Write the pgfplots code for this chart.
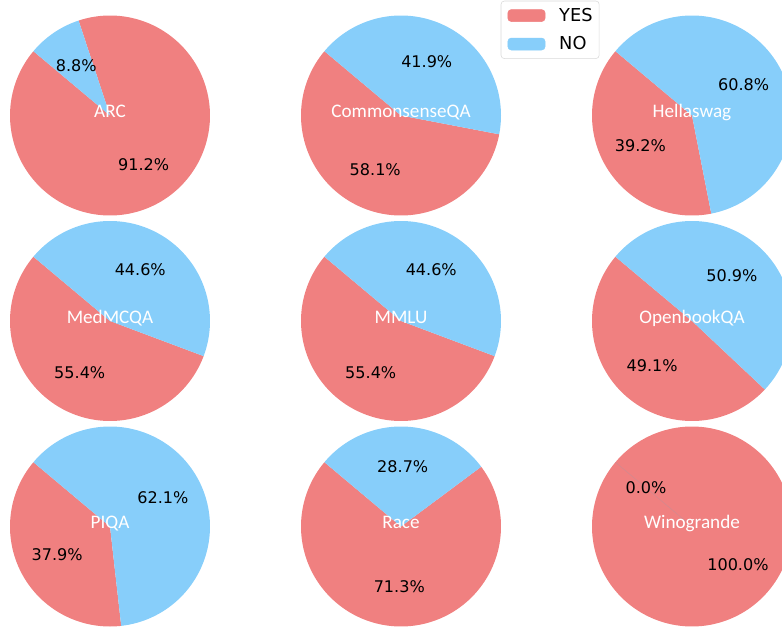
\documentclass[border=0pt]{standalone}
\usepackage{pgfplots}
\usepackage{pgfplotstable}
\pgfplotsset{compat=1.18}
\usepackage{fontspec}
\setmainfont{DejaVu Sans}
\newfontfamily\namefont{Carlito}
\definecolor{yescol}{HTML}{F08080}
\definecolor{nocol}{HTML}{87CEFA}

% percentage of YES / NO answers per dataset; cx, cy = pie centre (pixels)
\pgfplotstableread{
name           yes    no    cx   cy
ARC            91.2   8.8   110  115.5
CommonsenseQA  58.1   41.9  401  115.5
Hellaswag      39.2   60.8  692  115.5
MedMCQA        55.4   44.6  110  321
MMLU           55.4   44.6  401  321
OpenbookQA     49.1   50.9  692  321
PIQA           37.9   62.1  110  526.5
Race           71.3   28.7  401  526.5
Winogrande     100.0  0.0   692  526.5
}\pietable

\begin{document}
\begin{tikzpicture}
\begin{axis}[
  scale only axis,
  width=563.04pt, height=452.16pt,
  xmin=0, xmax=782, ymin=0, ymax=628,
  y dir=reverse,
  hide axis,
  clip=true,
  legend style={
    at={(axis cs:500.7,0.7)}, anchor=north west,
    draw=black!15, rounded corners=2.5pt,
    font=\fontsize{12.8}{15}\selectfont,
    inner xsep=4.75pt, inner ysep=5pt,
    nodes={inner sep=0pt},
    column sep=10pt, row sep=9.5pt,
    legend cell align=left,
  },
]
\addlegendimage{legend image code/.code={\fill[yescol] (0pt,-4.3pt) rectangle (26.8pt,4.3pt);}}
\addlegendentry{YES}
\addlegendimage{legend image code/.code={\fill[nocol] (0pt,-4.3pt) rectangle (26.8pt,4.3pt);}}
\addlegendentry{NO}

\pgfplotsinvokeforeach{0,...,8}{
  \pgfplotstablegetelem{#1}{name}\of\pietable \let\pname\pgfplotsretval
  \pgfplotstablegetelem{#1}{yes}\of\pietable \let\pyes\pgfplotsretval
  \pgfplotstablegetelem{#1}{no}\of\pietable \let\pno\pgfplotsretval
  \pgfplotstablegetelem{#1}{cx}\of\pietable \let\cx\pgfplotsretval
  \pgfplotstablegetelem{#1}{cy}\of\pietable \let\cy\pgfplotsretval
  \pgfmathsetmacro\aend{140+3.6*\pyes}
  \pgfmathsetmacro\bend{\aend+3.6*\pno}
  \pgfmathsetmacro\amid{140+1.8*\pyes}
  \pgfmathsetmacro\bmid{\aend+1.8*\pno}
  \pgfmathsetmacro\yx{\cx+60*cos(\amid)}
  \pgfmathsetmacro\yy{\cy-60*sin(\amid)}
  \pgfmathsetmacro\nx{\cx+60*cos(\bmid)}
  \pgfmathsetmacro\ny{\cy-60*sin(\bmid)}
  \pgfmathsetmacro\bx{\cx+100*cos(\aend)}
  \pgfmathsetmacro\by{\cy-100*sin(\aend)}
  \edef\doit{%
    \noexpand\addplot[fill=yescol, draw=none, forget plot, domain=140:\aend, samples=150]
      ({\cx+100*cos(x)},{\cy-100*sin(x)}) -- (axis cs:\cx,\cy) -- cycle;
  }\doit
  \pgfmathparse{\pno>0.05 ? 1 : 0}
  \ifnum\pgfmathresult=1
    \edef\doit{%
      \noexpand\addplot[fill=nocol, draw=none, forget plot, domain=\aend:\bend, samples=100]
        ({\cx+100*cos(x)},{\cy-100*sin(x)}) -- (axis cs:\cx,\cy) -- cycle;
    }\doit
  \else
    \edef\doit{%
      \noexpand\addplot[draw=yescol!70!gray!80!nocol, line width=0.4pt, opacity=0.6, forget plot]
        coordinates {(\cx,\cy) (\bx,\by)};
    }\doit
  \fi
  \edef\doit{%
    \noexpand\node[font=\noexpand\fontsize{11.56}{13}\noexpand\selectfont, inner sep=0pt] at (axis cs:\yx,\yy) {\pyes\noexpand\%};
    \noexpand\node[font=\noexpand\fontsize{11.56}{13}\noexpand\selectfont, inner sep=0pt] at (axis cs:\nx,\ny) {\pno\noexpand\%};
    \noexpand\node[font=\noexpand\namefont\noexpand\fontsize{13.8}{15}\noexpand\selectfont, text=white, inner sep=0pt, text height=8pt, text depth=5pt] at (axis cs:\cx,\cy) {\pname};
  }\doit
}
\end{axis}
\path (current axis.south west) rectangle (current axis.north east);
\end{tikzpicture}
\end{document}
